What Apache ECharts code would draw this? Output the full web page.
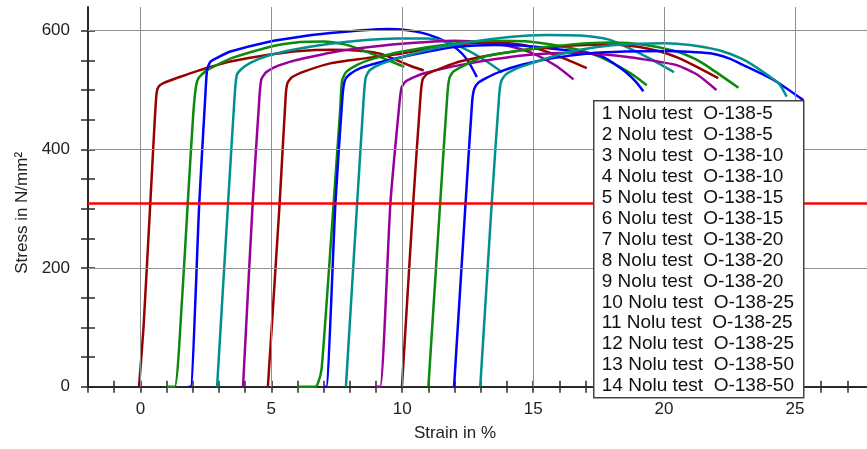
<!DOCTYPE html>
<html>
<head>
<meta charset="utf-8">
<script src="https://cdn.jsdelivr.net/npm/echarts@6/dist/echarts.min.js"></script>
<style>
html,body{margin:0;padding:0;background:#fff;}
#chart{width:867px;height:449px;}
</style>
</head>
<body>
<div id="chart"></div>
<script>
// ---- data ----
const testNames = [
  '1 Nolu test  O-138-5',
  '2 Nolu test  O-138-5',
  '3 Nolu test  O-138-10',
  '4 Nolu test  O-138-10',
  '5 Nolu test  O-138-15',
  '6 Nolu test  O-138-15',
  '7 Nolu test  O-138-20',
  '8 Nolu test  O-138-20',
  '9 Nolu test  O-138-20',
  '10 Nolu test  O-138-25',
  '11 Nolu test  O-138-25',
  '12 Nolu test  O-138-25',
  '13 Nolu test  O-138-50',
  '14 Nolu test  O-138-50'
];
const curveColors = ['#990000','#0b8a0b','#0000ff','#009090','#990099'];

const c1 = [[-0.05,0],[0.12,100],[0.38,310],[0.55,450],[0.62,495],[0.7,506],[0.9,512],[1.5,522],[2.16,532],[3.44,548],[4.96,560],[6.1,566],[7.3,568],[8.5,566],[9.2,561],[9.7,552],[10.3,541],[10.82,533]];
const c2 = [[1.0,0],[1.31,0],[1.59,146],[1.81,310],[2.02,460],[2.12,505],[2.22,520],[2.5,532],[3.44,553],[4.96,573],[6.1,581],[7.0,582],[7.8,577],[8.5,567],[9.2,555],[9.7,546],[10.08,539]];
const c3 = [[1.84,0],[1.92,0],[2.25,310],[2.48,490],[2.55,535],[2.68,548],[3.0,556],[3.44,565],[4.96,582],[6.1,590],[7.25,596],[8.5,601],[9.5,603],[10.2,601],[10.8,596],[11.5,585],[12.1,569],[12.5,550],[12.85,522]];
const c4 = [[2.93,0],[3.35,310],[3.6,490],[3.68,525],[3.85,535],[4.2,546],[4.96,559],[6.1,570],[7.25,578],[8.5,584],[9.8,587],[11.0,587],[11.8,580],[12.5,567],[13.2,549],[13.82,530]];
const c5 = [[3.92,0],[4.29,310],[4.55,490],[4.62,518],[4.8,530],[5.2,540],[5.73,548],[6.1,552],[7.25,563],[8.27,570],[10.0,578],[12.0,583],[13.2,580],[14.38,571],[15.14,559],[15.9,540],[16.54,518]];
const c6 = [[4.87,0],[5.32,310],[5.55,490],[5.62,512],[5.8,522],[6.3,532],[7.25,545],[8.5,553],[9.92,561],[11.0,570],[12.34,578],[13.5,580],[14.5,577],[15.3,568],[16.2,553],[17.05,537]];
const c7 = [[6.0,0],[6.68,0],[6.8,8],[6.92,30],[7.12,146],[7.35,290],[7.63,466],[7.7,515],[7.85,530],[8.3,543],[8.9,553],[10.0,565],[12.09,579],[13.5,583],[14.8,582],[15.8,576],[16.8,567],[17.6,555],[18.3,539],[18.9,523],[19.34,508]];
const c8 = [[7.03,0],[7.1,0],[7.45,310],[7.72,490],[7.8,515],[7.95,525],[8.4,537],[9.54,551],[11.0,565],[12.09,573],[13.5,576],[14.5,575],[15.5,571],[16.5,566],[17.56,558],[18.4,535],[18.9,515],[19.21,498]];
const c9 = [[7.85,0],[8.28,310],[8.52,480],[8.6,520],[8.75,533],[9.2,544],[9.8,553],[11.0,568],[12.5,580],[14.0,589],[15.5,593],[16.8,592],[17.9,585],[18.7,570],[19.5,552],[20.38,530]];
const c10 = [[9.0,0],[9.16,0],[9.55,310],[9.9,480],[9.98,505],[10.15,515],[10.81,528],[12.2,542],[13.5,552],[15.0,560],[16.5,563],[17.94,559],[19.2,552],[20.48,542],[21.3,525],[22.0,500]];
const c11 = [[9.99,0],[10.42,310],[10.7,490],[10.78,518],[10.95,527],[11.5,537],[12.2,548],[13.5,560],[15.0,569],[16.5,575],[17.94,577],[19.0,573],[19.85,565],[20.5,555],[21.12,542],[22.07,520]];
const c12 = [[11.0,0],[11.45,310],[11.72,490],[11.8,520],[11.95,531],[12.3,540],[13.1,556],[15.0,570],[16.5,577],[17.94,580],[19.3,576],[20.48,565],[21.2,552],[21.76,537],[22.84,504]];
const c13 = [[11.98,0],[12.42,310],[12.67,480],[12.75,502],[12.9,512],[13.2,520],[13.74,531],[14.6,543],[15.65,553],[17.18,562],[18.5,565],[20.1,566],[21.76,562],[22.5,553],[23.03,542],[23.7,528],[24.3,514],[25.32,483]];
const c14 = [[12.98,0],[13.42,310],[13.7,490],[13.78,515],[13.95,526],[14.4,537],[15.0,546],[16.0,560],[16.8,568],[17.94,575],[19.0,578],[20.0,579],[21.0,576],[22.1,567],[23.0,552],[23.8,530],[24.4,510],[24.68,489]];
const curves = [c1,c2,c3,c4,c5,c6,c7,c8,c9,c10,c11,c12,c13,c14];

const xTickValues = [-2,-1,0,1,2,3,4,5,6,7,8,9,10,11,12,13,14,15,16,17,18,19,20,21,22,23,24,25,26,27];
const xLabelValues = [0,5,10,15,20,25];
const yTickValues = [0,50,100,150,200,250,300,350,400,450,500,550,600];
const yLabelValues = [0,200,400,600];
const xGridValues = [0,5,10,15,20,25];
const yGridValues = [200,400,600];
const limitStress = 310;

// ---- chart ----
const FONT = '"Liberation Sans", Arial, sans-serif';
const chart = echarts.init(document.getElementById('chart'), null, {renderer:'canvas'});

function xAxisDef(inside, main){
  return {
    type:'value', min:-2, max:27.75, interval:1, position:'bottom',
    axisLine:{show:main, onZero:false, lineStyle:{color:'#2a2a2a', width:2}},
    axisTick:{show:true, inside:inside, length:6, customValues:xTickValues, lineStyle:{color:'#2a2a2a', width:1.5}},
    axisLabel:{show:main, customValues:xLabelValues, formatter:v => (v % 5 === 0 ? String(v) : ''), margin:14, fontSize:17, color:'#222', fontFamily:FONT},
    splitLine:{show:false},
    name: main ? 'Strain in %' : '', nameLocation:'middle', nameGap:38,
    nameTextStyle:{fontSize:17, color:'#222', fontFamily:FONT, padding:[0,45,0,0]}
  };
}
function yAxisDef(inside, main){
  return {
    type:'value', min:0, max:640, interval:50, position:'left',
    axisLine:{show:main, onZero:false, lineStyle:{color:'#2a2a2a', width:2}},
    axisTick:{show:true, inside:inside, length:7, customValues:yTickValues, lineStyle:{color:'#2a2a2a', width:1.5}},
    axisLabel:{show:main, customValues:yLabelValues, formatter:v => (v % 200 === 0 ? String(v) : ''), margin:18, fontSize:17, color:'#222', fontFamily:FONT},
    splitLine:{show:false},
    name: main ? 'Stress in N/mm²' : '', nameLocation:'middle', nameGap:52,
    nameTextStyle:{fontSize:17, color:'#222', fontFamily:FONT, padding:[0,32,0,0]}
  };
}

const series = [];
series.push({
  type:'line', data:[], z:1, silent:true, xAxisIndex:0, yAxisIndex:0,
  markLine:{
    silent:true, symbol:'none', animation:false,
    label:{show:false},
    lineStyle:{color:'#909090', width:1, type:'solid'},
    data: xGridValues.map(v => ({xAxis:v})).concat(yGridValues.map(v => ({yAxis:v})))
  }
});
curves.forEach((c, i) => {
  series.push({
    name: testNames[i], type:'line', data:c, xAxisIndex:0, yAxisIndex:0,
    showSymbol:false, symbol:'none', smooth:0.2, z:3,
    lineStyle:{color:curveColors[i % 5], width:2.5},
    animation:false
  });
});
series.push({
  type:'line', data:[], z:6, silent:true, xAxisIndex:0, yAxisIndex:0,
  markLine:{
    silent:true, symbol:'none', animation:false,
    label:{show:false},
    lineStyle:{color:'#ff0000', width:2.5, type:'solid'},
    data:[{yAxis:limitStress}]
  }
});

chart.setOption({
  backgroundColor:'#ffffff',
  animation:false,
  grid:{left:88, right:0, top:7, bottom:62.3, containLabel:false},
  xAxis:[xAxisDef(false, true), xAxisDef(true, false)],
  yAxis:[yAxisDef(false, true), yAxisDef(true, false)],
  series: series,
  graphic:[{
    type:'group', left:593, top:100, z:100,
    children:[
      {type:'rect', shape:{x:0, y:0, width:210, height:297}, style:{fill:'#ffffff', stroke:'#444', lineWidth:1.5}, z:100},
      {type:'text', x:8, y:3, z:101, style:{text:testNames.join('\n'), font:'19px "Liberation Sans", Arial, sans-serif', fill:'#111', lineHeight:20.9, verticalAlign:'top'}}
    ]
  }]
});
</script>
</body>
</html>
